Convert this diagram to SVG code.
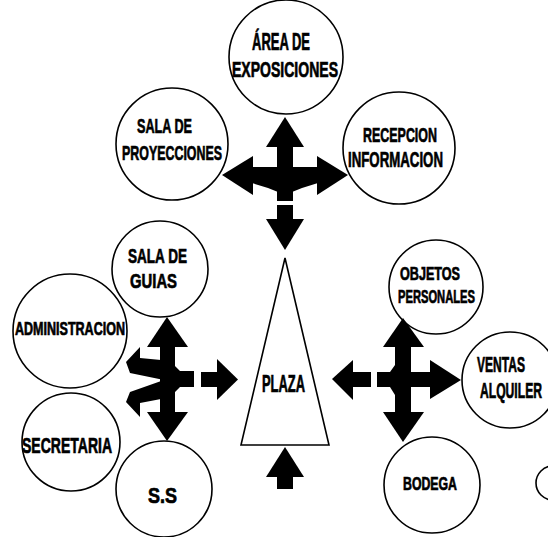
<svg xmlns="http://www.w3.org/2000/svg" width="548" height="537" viewBox="0 0 548 537">
<style>
.n{fill:#fff;stroke:#000;stroke-width:1.6}
.t{font-family:"Liberation Sans",Arial,sans-serif;font-weight:bold;fill:#000;stroke:#000;stroke-width:0.7;text-anchor:middle}
.a{fill:#000;stroke:none}
</style>
<rect width="548" height="537" fill="#fff"/>
<g id="area-exposiciones"><circle class="n" cx="286" cy="57" r="57"/>
<text class="t" x="281" y="50" font-size="23" textLength="58" lengthAdjust="spacingAndGlyphs">ÁREA DE</text>
<text class="t" x="285" y="77" font-size="22" textLength="106" lengthAdjust="spacingAndGlyphs">EXPOSICIONES</text></g>
<g id="sala-proyecciones"><circle class="n" cx="172" cy="144" r="56"/>
<text class="t" x="164.5" y="133" font-size="21" textLength="55" lengthAdjust="spacingAndGlyphs">SALA DE</text>
<text class="t" x="172" y="160" font-size="21" textLength="100" lengthAdjust="spacingAndGlyphs">PROYECCIONES</text></g>
<g id="recepcion"><circle class="n" cx="399" cy="148" r="56"/>
<text class="t" x="400" y="142" font-size="21" textLength="74" lengthAdjust="spacingAndGlyphs">RECEPCION</text>
<text class="t" x="395.5" y="167" font-size="22" textLength="95" lengthAdjust="spacingAndGlyphs">INFORMACION</text></g>
<g id="sala-guias"><circle class="n" cx="160" cy="269" r="48"/>
<text class="t" x="157.5" y="263" font-size="21" textLength="59" lengthAdjust="spacingAndGlyphs">SALA DE</text>
<text class="t" x="153.5" y="288" font-size="21" textLength="47" lengthAdjust="spacingAndGlyphs">GUIAS</text></g>
<g id="administracion"><circle class="n" cx="70" cy="331" r="57"/>
<text class="t" x="70" y="335" font-size="18" textLength="110" lengthAdjust="spacingAndGlyphs">ADMINISTRACION</text></g>
<g id="secretaria"><circle class="n" cx="71" cy="442" r="49"/>
<text class="t" x="67" y="453" font-size="22" textLength="90" lengthAdjust="spacingAndGlyphs">SECRETARIA</text></g>
<g id="ss"><circle class="n" cx="164" cy="489" r="48"/>
<text class="t" x="162.5" y="503" font-size="22" textLength="29" lengthAdjust="spacingAndGlyphs">S.S</text></g>
<g id="plaza"><polygon class="n" points="285,258 329,445 241,445"/>
<text class="t" x="283.5" y="392" font-size="23" textLength="43" lengthAdjust="spacingAndGlyphs">PLAZA</text></g>
<g id="objetos-personales"><circle class="n" cx="436" cy="287" r="47"/>
<text class="t" x="430" y="280" font-size="18" textLength="60" lengthAdjust="spacingAndGlyphs">OBJETOS</text>
<text class="t" x="436.5" y="303" font-size="18" textLength="77" lengthAdjust="spacingAndGlyphs">PERSONALES</text></g>
<g id="ventas-alquiler"><circle class="n" cx="510" cy="380" r="48"/>
<text class="t" x="501" y="372" font-size="22" textLength="48" lengthAdjust="spacingAndGlyphs">VENTAS</text>
<text class="t" x="511" y="398" font-size="22" textLength="62" lengthAdjust="spacingAndGlyphs">ALQUILER</text></g>
<g id="bodega"><circle class="n" cx="432" cy="485" r="48"/>
<text class="t" x="430" y="490" font-size="18" textLength="54" lengthAdjust="spacingAndGlyphs">BODEGA</text></g>
<g id="partial-node"><circle class="n" cx="553" cy="483" r="17"/></g>
<g id="connectors" class="a">
<g id="cross-top">
<polygon points="285,117 304,147 266,147"/>
<rect x="277" y="146" width="16" height="55"/>
<polygon points="222,175 253,156 253,195"/>
<polygon points="252,167 278,167 278,192 268,188 252,183"/>
<polygon points="348,175 317,156 317,195"/>
<polygon points="292,167 318,167 318,183 302,188 292,192"/>
<rect x="277" y="205" width="16" height="15"/>
<polygon points="266,219 304,219 285,250"/>
</g>
<g id="cross-left">
<polygon points="167,317 188,347 147,347"/>
<rect x="160" y="346" width="15" height="67"/>
<polygon points="147,412 188,412 167,441"/>
<polygon points="174,365 180,371 194,371 194,387 180,387 174,393"/>
<polygon points="140,347 126,362 130,373 164,380 130,392 126,402 140,417 140,403 161,399 161,360 140,358"/>
<rect x="201" y="372" width="17" height="15"/>
<polygon points="217,359 238,379.5 217,400"/>
</g>
<g id="cross-right">
<polygon points="403,318 424,347 383,347"/>
<polygon points="395,346 411,346 411,413 395,413 395,395 390,387 390,372 395,365"/>
<polygon points="383,412 424,412 403,442"/>
<rect x="377" y="372" width="54" height="15"/>
<polygon points="430,360 461,380 430,399"/>
<rect x="352" y="372" width="19" height="15"/>
<polygon points="332,379 353,360 353,400"/>
</g>
<g id="arrow-bottom">
<polygon points="285,447 304,477 266,477"/>
<rect x="277" y="476" width="16" height="13"/>
</g>
</g>
</svg>
